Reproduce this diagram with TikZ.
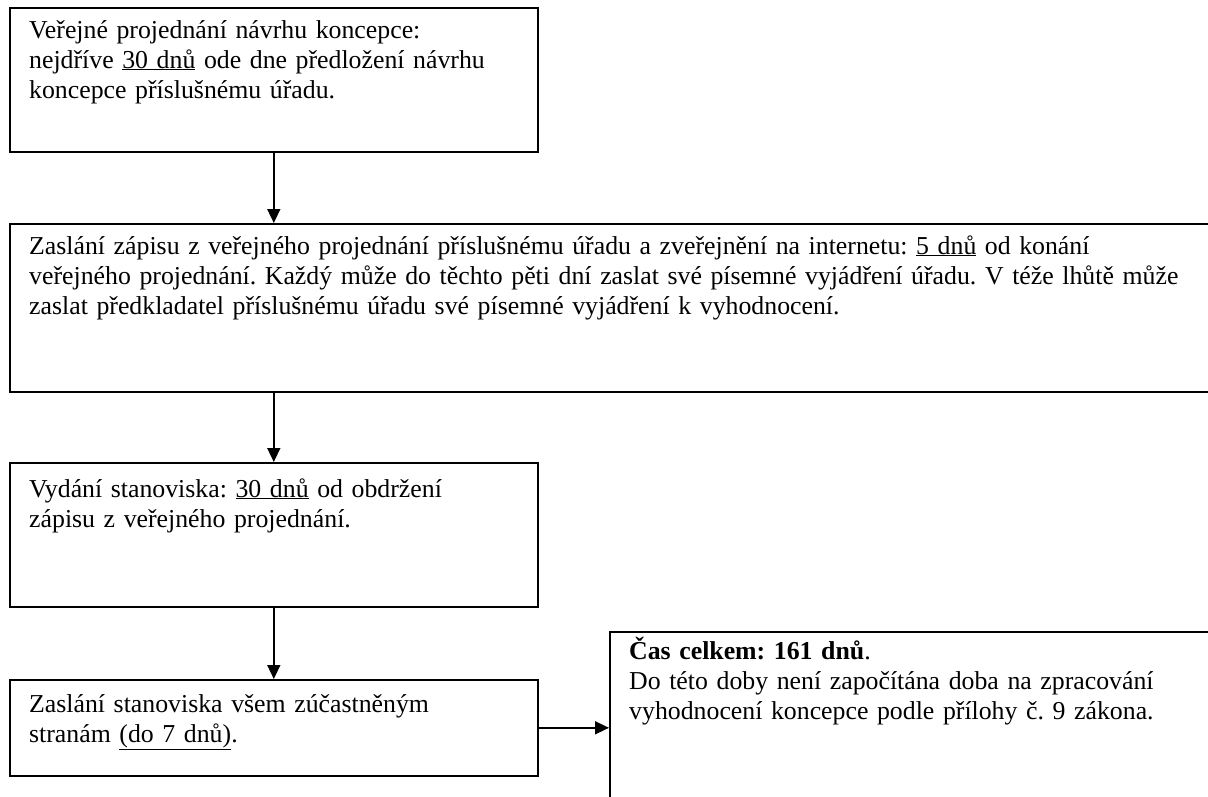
\documentclass[tikz,border=0pt]{standalone}
\usepackage{fontspec}
\setmainfont{Liberation Serif}
\usetikzlibrary{arrows.meta}
\frenchspacing
\begin{document}
\begin{tikzpicture}[x=1pt,y=-1pt]
\tikzstyle{every node}=[font=\fontsize{25.8}{30}\selectfont]
\tikzstyle{box}=[draw, line width=1.6pt, inner sep=0pt, anchor=north west]
\tikzstyle{txt}=[anchor=base west, inner sep=0pt, align=left]
\tikzstyle{flow}=[-{Triangle[length=14pt,width=13pt]}, line width=1.5pt]
\clip (0,0) rectangle (1208,796);
% boxes
\node [box, minimum width=528, minimum height=144] (b1) at (9,7) {};
\node [box, minimum width=1230, minimum height=168] (b2) at (9,223) {};
\node [box, minimum width=528, minimum height=144] (b3) at (9,462) {};
\node [box, minimum width=528, minimum height=96] (b4) at (9,679) {};
\node [box, minimum width=700, minimum height=300] (b5) at (609,631) {};
% texts
\node [txt, text width=505] (t1) at (29,38) {Veřejné projednání návrhu koncepce:\\
nejdříve \underline{30 dnů} ode dne předložení návrhu\\
koncepce příslušnému úřadu.};
\node [txt, text width=1175] (t2) at (29,254) {Zaslání zápisu z veřejného projednání příslušnému úřadu a zveřejnění na internetu: \underline{5 dnů} od konání\\
veřejného projednání. Každý může do těchto pěti dní zaslat své písemné vyjádření úřadu. V téže lhůtě může\\
zaslat předkladatel příslušnému úřadu své písemné vyjádření k vyhodnocení.};
\node [txt, text width=505] (t3) at (29,497) {Vydání stanoviska: \underline{30 dnů} od obdržení\\
zápisu z veřejného projednání.};
\node [txt, text width=505] (t4) at (29,712) {Zaslání stanoviska všem zúčastněným\\
stranám \underline{(do 7 dnů)}.};
\node [txt, text width=590] (t5) at (629,659) {\textbf{Čas celkem: 161 dnů}.\\
Do této doby není započítána doba na zpracování\\
vyhodnocení koncepce podle přílohy č. 9 zákona.};
% arrows
\draw [flow] (b1.south) -- (b1.south |- b2.north);
\draw [flow] (b1.south |- b2.south) -- (b3.north);
\draw [flow] (b3.south) -- (b4.north);
\draw [flow] (b4.east) -- (b4.east -| b5.west);
\end{tikzpicture}
\end{document}
